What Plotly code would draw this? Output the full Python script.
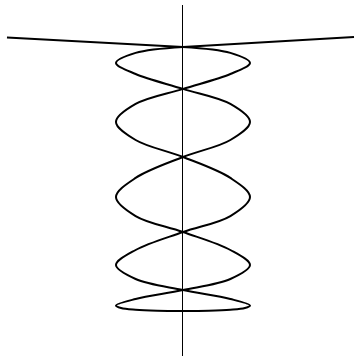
import plotly.graph_objects as go

# points along one strand, top crossing down to the bottom tip
strand_x = [0, 0.707, 1, 0.707, 0, -0.707, -1, -0.707, 0, 0.707, 1, 0.707,
            0, -0.707, -1, -0.707, 0, 0.707, 1, 0.924, 0.707, 0.383, 0]
strand_y = [0.913, 0.870, 0.797, 0.717, 0.609, 0.500, 0.370, 0.239, 0.116, -0.036, -0.174, -0.312,
            -0.428, -0.558, -0.667, -0.768, -0.848, -0.913, -0.960, -0.978, -0.991, -0.998, -1.0]

# straight arms at the top, running from the outer ends into the top crossing
left_arm_x = [-2.627, 0]
left_arm_y = [0.982, 0.913]
right_arm_x = [2.552, 0]
right_arm_y = [0.986, 0.913]

line = dict(color='black', width=2)

fig = go.Figure()
fig.add_trace(go.Scatter(x=strand_x, y=strand_y, mode='lines',
                         line=dict(line, shape='spline', smoothing=1)))
fig.add_trace(go.Scatter(x=[-v for v in strand_x], y=strand_y, mode='lines',
                         line=dict(line, shape='spline', smoothing=1)))
fig.add_trace(go.Scatter(x=left_arm_x, y=left_arm_y, mode='lines', line=line))
fig.add_trace(go.Scatter(x=right_arm_x, y=right_arm_y, mode='lines', line=line))

fig.update_layout(width=355, height=356,
                  margin=dict(l=0, r=0, t=5, b=0),
                  paper_bgcolor='white', plot_bgcolor='white',
                  showlegend=False,
                  xaxis=dict(range=[-2.731, 2.567], showgrid=False, showticklabels=False,
                             ticks='', zeroline=True, zerolinecolor='black', zerolinewidth=1),
                  yaxis=dict(range=[-1.326, 1.217], showgrid=False, showticklabels=False,
                             ticks='', zeroline=False))

# page body has an 8px default margin, drop it so the chart sits at the window corner
fig.write_html("out.html", config={'displayModeBar': False},
               post_script="document.body.style.margin='0';")
